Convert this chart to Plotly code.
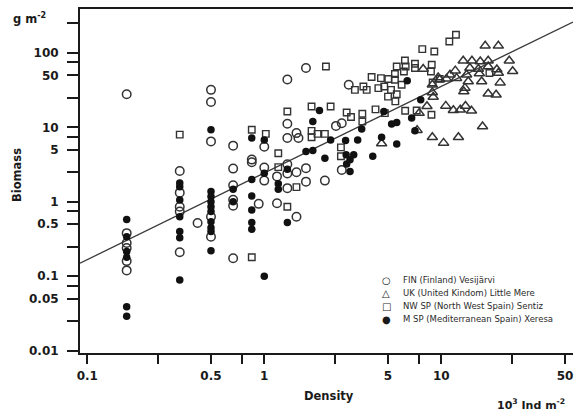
import math
import plotly.graph_objects as go

# ---- data (density in 10^3 ind m-2, biomass in g m-2) ----
fin_density = [0.167, 0.167, 0.167, 0.167, 0.167, 0.167,
               0.333, 0.333, 0.333, 0.333, 0.333,
               0.42,
               0.5, 0.5, 0.5, 0.5, 0.5,
               0.667, 0.667, 0.667, 0.667, 0.667, 0.667,
               0.85, 0.85, 0.93,
               1.0, 1.0, 1.0,
               1.18, 1.18,
               1.35, 1.35, 1.35, 1.35, 1.35, 1.35,
               1.52, 1.56, 1.52, 1.52,
               1.72, 1.72, 1.72,
               2.2, 2.54, 2.74, 2.74, 3.0]
fin_biomass = [28, 0.38, 0.28, 0.24, 0.16, 0.12,
               2.6, 1.33, 0.86, 0.74, 0.21,
               0.52,
               32, 22, 6.5, 0.63, 0.34,
               5.7, 2.8, 1.67, 1.07, 0.89, 0.175,
               3.7, 3.4, 0.94,
               5.5, 2.9, 1.93,
               2.2, 0.96,
               44, 11.2, 7.2, 3.2, 2.4, 1.53,
               8.4, 7.2, 2.5, 0.63,
               63, 2.84, 1.87,
               1.93, 10.5, 11.4, 2.69, 37.5]

uk_density = [4.6, 7.3, 7.5, 8.3, 8.9, 7.9,
              8.9, 8.9, 9.0, 9.6,
              10.3, 12.5, 17.1,
              10.6, 11.7, 12.8, 13.7, 14.8,
              17.7, 21.0, 24.2, 25.3,
              13.3, 14.9, 16.6, 18.4,
              12.0, 14.5, 16.2, 18.4, 20.6,
              11.2, 13.9, 16.4, 21.0,
              9.8, 10.7, 12.2,
              14.2, 16.9, 21.5,
              13.6, 13.4, 18.4, 20.4]
uk_biomass = [6.1, 9.2, 15.6, 19.3, 7.4, 61,
              37.5, 29.5, 25.6, 47,
              6.2, 7.4, 10.3,
              19.5, 17, 17.3, 19.4, 16.8,
              125, 125, 79, 57,
              79, 79, 77, 79,
              58, 63, 61, 66, 60,
              51, 51, 53, 54,
              44, 45, 46,
              41.5, 41.5, 40,
              34, 30.5, 28.4, 27.5]

nw_density = [0.333, 0.85, 1.02, 0.85, 1.2, 1.2, 1.35, 1.35, 1.52,
              1.85, 1.85, 1.85, 2.0, 2.2, 2.23, 2.37,
              2.71, 2.71, 2.92, 3.09, 3.58, 3.58, 4.25, 4.8,
              6.25, 7.26, 8.8,
              3.25, 3.63, 3.79, 4.41, 4.76, 5.2, 5.6, 5.0, 5.5,
              4.04, 4.56, 5.02, 5.47, 5.97, 5.47, 6.15,
              5.6, 6.23, 6.29, 7.1, 7.1, 8.83, 8.74,
              7.81, 9.13, 11.1, 12.1,
              9.8, 8.94, 18.7]
nw_biomass = [8.0, 9.3, 8.2, 0.18, 4.5, 2.93, 16.4, 0.86, 1.58,
              19.1, 9.0, 7.4, 8.2, 8.2, 66, 19.1,
              5.4, 4.1, 15.9, 13.8, 15.3, 12.0, 17.5, 15.6,
              16.8, 16.9, 14.8,
              32, 35.6, 32, 33.8, 35.6, 32, 28, 26, 22.4,
              47.6, 46.1, 44.7, 43.7, 37.5, 52.2, 56.6,
              66, 79.4, 66, 71.8, 62.9, 69.6, 56.6,
              113, 105, 143, 176,
              45, 40.2, 54]

msp_density = [0.167, 0.167, 0.167, 0.167, 0.167, 0.167,
               0.333, 0.333, 0.333, 0.333, 0.333, 0.333, 0.333,
               0.5, 0.5, 0.5, 0.5, 0.5, 0.5, 0.5, 0.5, 0.5, 0.5,
               0.667, 0.667,
               0.85, 0.85, 0.85, 0.85, 0.85, 0.85,
               1.0, 1.0, 1.0,
               1.2, 1.2,
               1.35, 1.35,
               1.72, 1.88, 1.88, 2.05, 2.2, 2.37,
               2.88, 2.9, 3.2, 3.05, 2.92, 3.05,
               3.37, 3.55, 4.1, 4.6, 4.74, 5.24, 5.6, 5.6,
               6.42, 6.8, 7.1, 7.65]
msp_biomass = [0.58, 0.34, 0.215, 0.18, 0.039, 0.029,
               1.8, 1.6, 1.06, 0.63, 0.40, 0.33, 0.089,
               9.3, 1.38, 1.18, 1.0, 0.86, 0.74, 0.54, 0.45, 0.40, 0.22,
               1.48, 1.0,
               7.2, 2.0, 1.2, 0.78, 0.53, 0.43,
               6.8, 2.43, 0.1,
               1.75, 1.48,
               2.75, 0.53,
               4.75, 4.9, 12, 16.9, 3.87, 6.8,
               6.7, 4.3, 4.3, 3.67, 3.24, 2.55,
               6.8, 9.5, 4.1, 7.4, 16.4, 11.1, 11.7, 6.0,
               42.4, 13.4, 9.0, 23.5]

# fitted power law: biomass = fit_coef * density ** fit_exp
fit_coef = 2.44
fit_exp = 1.164

x_range_log = [-1.041, 1.744]
y_range_log = [-2.031, 2.592]

legend_labels = ["FIN (Finland) Vesijärvi",
                 "UK (United Kindom) Little Mere",
                 "NW SP (North West Spain) Sentiz",
                 "M SP (Mediterranean Spain) Xeresa"]
legend_symbols = ["○", "△", "□", "●"]

x_tickvals = [0.1, 0.25, 0.5, 0.75, 1, 2.5, 5, 7.5, 10, 25, 50]
x_ticktext = ["0.1", " ", "0.5", " ", "1", " ", "5", " ", "10", " ", "50"]
y_tickvals = [0.01, 0.025, 0.05, 0.075, 0.1, 0.25, 0.5, 0.75, 1, 2.5, 5, 7.5,
              10, 25, 50, 75, 100, 250]
y_ticktext = ["0.01", " ", "0.05", " ", "0.1", " ", "0.5", " ", "1", " ", "5", " ",
              "10", " ", "50", " ", "100", " "]

FONT = "DejaVu Sans"
INK = "#1a1a1a"

fig = go.Figure()

# regression line
fx = [10 ** x_range_log[0], 10 ** x_range_log[1]]
fy = [fit_coef * v ** fit_exp for v in fx]
fig.add_trace(go.Scatter(x=fx, y=fy, mode="lines",
                         line=dict(color="#3a3a3a", width=1.3),
                         showlegend=False, hoverinfo="skip"))

fig.add_trace(go.Scatter(x=fin_density, y=fin_biomass, mode="markers",
                         name=legend_labels[0],
                         marker=dict(symbol="circle-open", size=8.5, color="#333333",
                                     line=dict(width=1.5))))
fig.add_trace(go.Scatter(x=uk_density, y=uk_biomass, mode="markers",
                         name=legend_labels[1],
                         marker=dict(symbol="triangle-up-open", size=9, color="#333333",
                                     line=dict(width=1.5))))
fig.add_trace(go.Scatter(x=nw_density, y=nw_biomass, mode="markers",
                         name=legend_labels[2],
                         marker=dict(symbol="square-open", size=6.5, color="#333333",
                                     line=dict(width=1.4))))
fig.add_trace(go.Scatter(x=msp_density, y=msp_biomass, mode="markers",
                         name=legend_labels[3],
                         marker=dict(symbol="circle", size=7.5, color="#111111",
                                     line=dict(width=0))))

W, H = 574, 419
L, R, T, B = 80, 1, 9, 66
pw, ph = W - L - R, H - T - B


def px(xp):
    return (xp - L) / pw


def py(yp):
    return (H - B - yp) / ph


annotations = []
# manual legend
rows_y = [280, 293, 306, 319]
for sym, lab, yy in zip(legend_symbols, legend_labels, rows_y):
    annotations.append(dict(x=px(386), y=py(yy), xref="paper", yref="paper",
                            text=sym, showarrow=False, xanchor="center", yanchor="middle",
                            font=dict(family=FONT, size=10, color=INK)))
    annotations.append(dict(x=px(401), y=py(yy), xref="paper", yref="paper",
                            text=lab, showarrow=False, xanchor="left", yanchor="middle",
                            font=dict(family=FONT, size=8.5, color="#2a2a2a")))

annotations += [
    dict(x=px(17), y=py(175), xref="paper", yref="paper", text="Biomass",
         textangle=-90, showarrow=False, xanchor="center", yanchor="middle",
         font=dict(family=FONT, size=11.5, color=INK, weight="bold")),
    dict(x=px(29), y=py(18), xref="paper", yref="paper", text="g m<sup>-2</sup>",
         showarrow=False, xanchor="center", yanchor="middle",
         font=dict(family=FONT, size=11.5, color=INK, weight="bold")),
    dict(x=px(329), y=py(396), xref="paper", yref="paper", text="Density",
         showarrow=False, xanchor="center", yanchor="middle",
         font=dict(family=FONT, size=11.5, color=INK, weight="bold")),
    dict(x=px(567), y=py(404), xref="paper", yref="paper",
         text="10<sup>3</sup> Ind m<sup>-2</sup>",
         showarrow=False, xanchor="right", yanchor="middle",
         font=dict(family=FONT, size=11, color=INK, weight="bold")),
]

fig.update_layout(
    width=W, height=H,
    margin=dict(l=L, r=R, t=T, b=B, pad=0),
    paper_bgcolor="white", plot_bgcolor="white",
    showlegend=False,
    hovermode=False,
    annotations=annotations,
    xaxis=dict(type="log", range=x_range_log, showgrid=False, zeroline=False,
               showline=True, linewidth=2, linecolor=INK, mirror=True,
               ticks="outside", ticklen=9, tickwidth=2, tickcolor=INK,
               tickmode="array", tickvals=x_tickvals, ticktext=x_ticktext,
               ticklabelstandoff=2, ticklabeloverflow="allow",
               tickfont=dict(family=FONT, size=12, color=INK, weight="bold")),
    yaxis=dict(type="log", range=y_range_log, showgrid=False, zeroline=False,
               showline=True, linewidth=2, linecolor=INK, mirror=False,
               ticks="outside", ticklen=11, tickwidth=2, tickcolor=INK,
               tickmode="array", tickvals=y_tickvals, ticktext=y_ticktext,
               ticklabelstandoff=6,
               tickfont=dict(family=FONT, size=12, color=INK, weight="bold")),
)

fig.write_html("out.html",
               config={"displayModeBar": False, "staticPlot": True},
               post_script="document.body.style.margin='0';document.body.style.overflow='hidden';")
